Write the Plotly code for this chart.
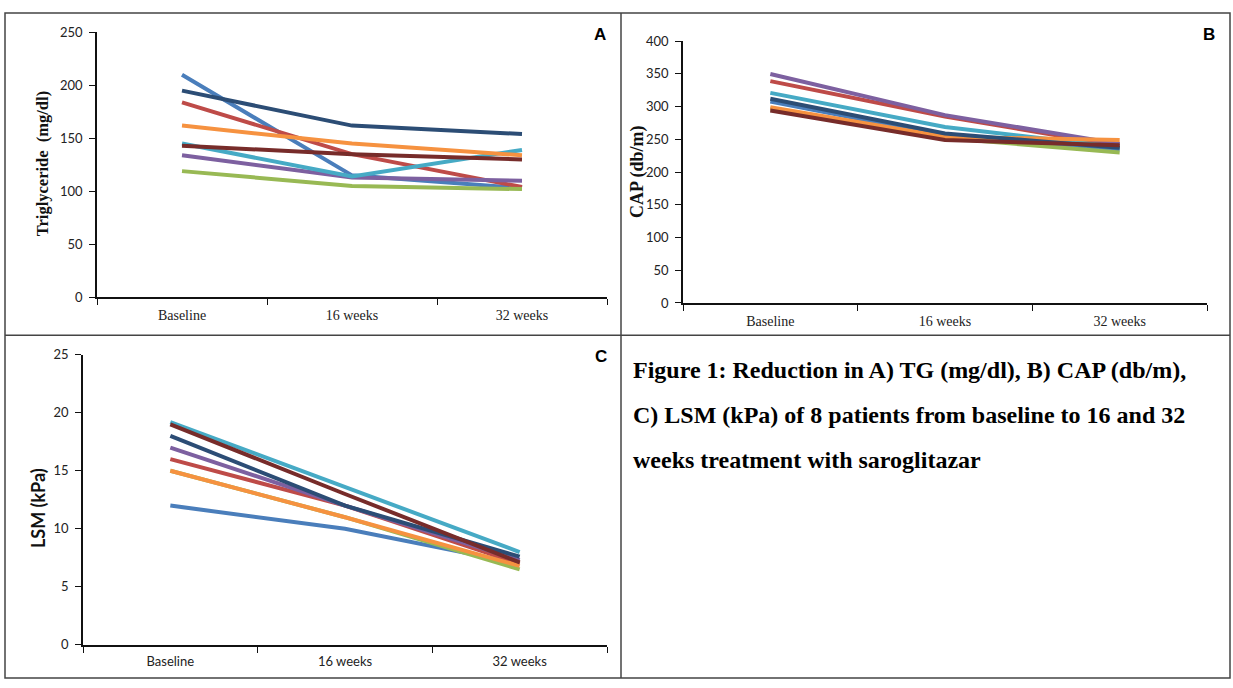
import plotly.graph_objects as go

W, H = 1233, 688

categories = ["Baseline", "16 weeks", "32 weeks"]
series_names = ["Patient 1", "Patient 2", "Patient 3", "Patient 4",
                "Patient 5", "Patient 6", "Patient 7", "Patient 8"]
colors = ["#4A7EBB", "#BE4B48", "#98B954", "#7D60A0",
          "#46AAC5", "#F69240", "#2C4D75", "#772C2A"]

# Panel A: Triglyceride (mg/dl)
tg = [
    [210, 115, 103],
    [184, 135, 104],
    [119, 105, 102],
    [134, 113, 110],
    [145, 114, 139],
    [162, 145, 134],
    [195, 162, 154],
    [143, 135, 130],
]
# Panel B: CAP (db/m)
cap = [
    [308, 256, 235],
    [339, 285, 240],
    [297, 252, 230],
    [350, 287, 243],
    [321, 269, 238],
    [299, 254, 249],
    [312, 259, 237],
    [294, 249, 241],
]
# Panel C: LSM (kPa)
lsm = [
    [12.0, 10.0, 7.0],
    [16.0, 12.0, 7.0],
    [15.0, 11.0, 6.5],
    [17.0, 12.0, 7.3],
    [19.2, 13.6, 8.0],
    [15.0, 11.0, 6.8],
    [18.0, 12.0, 7.6],
    [19.0, 13.0, 7.1],
]

y_ticks_A = [0, 50, 100, 150, 200, 250]
y_ticks_B = [0, 50, 100, 150, 200, 250, 300, 350, 400]
y_ticks_C = [0, 5, 10, 15, 20, 25]


def px_x(p):
    return p / W


def px_y(p):
    return 1 - p / H


fig = go.Figure()
for data, xa, ya in [(tg, "x", "y"), (cap, "x2", "y2"), (lsm, "x3", "y3")]:
    for name, vals, col in zip(series_names, data, colors):
        fig.add_trace(go.Scatter(
            x=categories, y=vals, mode="lines", name=name,
            line=dict(color=col, width=4), xaxis=xa, yaxis=ya,
            showlegend=False, hoverinfo="x+y+name"))

num_font = dict(family="Lato, Open Sans, sans-serif", size=13, color="#222")
serif_cat = dict(family="Liberation Serif, Times New Roman, serif", size=14, color="#222")
sans_cat = dict(family="Lato, Open Sans, sans-serif", size=13, color="#222")


def xaxis(domain, font, anchor):
    return dict(domain=domain, type="category", range=[-0.5, 2.5],
                tickson="boundaries", ticks="outside", ticklen=6,
                tickwidth=1.3, tickcolor="#111", showline=True,
                linecolor="#111", linewidth=1.5, showgrid=False,
                zeroline=False, tickfont=font, anchor=anchor,
                ticklabelstandoff=4, fixedrange=True)


def yaxis(domain, rng, tv, anchor):
    return dict(domain=domain, range=rng, tickvals=tv, ticks="outside",
                ticklen=6, tickwidth=1.3, tickcolor="#111", showline=True,
                linecolor="#111", linewidth=1.5, showgrid=False,
                zeroline=False, tickfont=num_font, anchor=anchor,
                ticklabelstandoff=4, fixedrange=True)


fig.update_layout(
    width=W, height=H, margin=dict(l=0, r=0, t=0, b=0),
    paper_bgcolor="white", plot_bgcolor="white",
    xaxis=xaxis([px_x(97), px_x(607)], serif_cat, "y"),
    yaxis=yaxis([px_y(296), px_y(25)], [0, 250], y_ticks_A, "x"),
    xaxis2=xaxis([px_x(683), px_x(1207)], serif_cat, "y2"),
    yaxis2=yaxis([px_y(302), px_y(34)], [0, 400], y_ticks_B, "x2"),
    xaxis3=xaxis([px_x(83), px_x(607)], sans_cat, "y3"),
    yaxis3=yaxis([px_y(652), px_y(355)], [0, 25], y_ticks_C, "x3"),
)

serif = "Liberation Serif, Times New Roman, serif"
ann = []
ann.append(dict(text="<b>Triglyceride  (mg/dl)</b>", x=px_x(42), y=px_y(160),
                xref="paper", yref="paper", textangle=-90, showarrow=False,
                xanchor="center", yanchor="middle",
                font=dict(family=serif, size=16.5, color="#111")))
ann.append(dict(text="<b>CAP (db/m)</b>", x=px_x(637), y=px_y(168),
                xref="paper", yref="paper", textangle=-90, showarrow=False,
                xanchor="center", yanchor="middle",
                font=dict(family=serif, size=18, color="#111")))
ann.append(dict(text="<b>LSM (kPa)</b>", x=px_x(38), y=px_y(512),
                xref="paper", yref="paper", textangle=-90, showarrow=False,
                xanchor="center", yanchor="middle",
                font=dict(family="Lato, Open Sans, sans-serif", size=18, color="#111")))
for letter, xp, yp in [("A", 600, 27), ("B", 1209, 27), ("C", 601, 357)]:
    ann.append(dict(text="<b>%s</b>" % letter, x=px_x(xp), y=px_y(yp),
                    xref="paper", yref="paper", showarrow=False,
                    xanchor="center", yanchor="middle",
                    font=dict(family="Liberation Sans, Arial, sans-serif", size=17, color="#000")))
caption_lines = [
    "Figure 1: Reduction in A) TG (mg/dl), B) CAP (db/m),",
    "C) LSM (kPa) of 8 patients from baseline to 16 and 32",
    "weeks treatment with saroglitazar",
]
for line, yp in zip(caption_lines, [371, 417, 463]):
    ann.append(dict(text="<b>%s</b>" % line, x=px_x(631), y=px_y(yp),
                    xref="paper", yref="paper", xanchor="left", yanchor="middle",
                    showarrow=False,
                    font=dict(family=serif, size=24, color="#000")))
fig.update_layout(annotations=ann)

border = dict(color="#444", width=1.5)
shapes = [
    dict(type="rect", xref="paper", yref="paper", x0=px_x(5), x1=px_x(1230),
         y0=px_y(686), y1=px_y(5), line=border),
    dict(type="line", xref="paper", yref="paper", x0=px_x(621), x1=px_x(621),
         y0=px_y(686), y1=px_y(5), line=border),
    dict(type="line", xref="paper", yref="paper", x0=px_x(5), x1=px_x(1230),
         y0=px_y(335), y1=px_y(335), line=border),
]
fig.update_layout(shapes=shapes)

post = (
    "document.documentElement.style.margin='0';"
    "document.body.style.margin='0';"
    "document.body.style.overflow='hidden';"
)
fig.write_html("out.html", config={"displayModeBar": False}, post_script=post)
